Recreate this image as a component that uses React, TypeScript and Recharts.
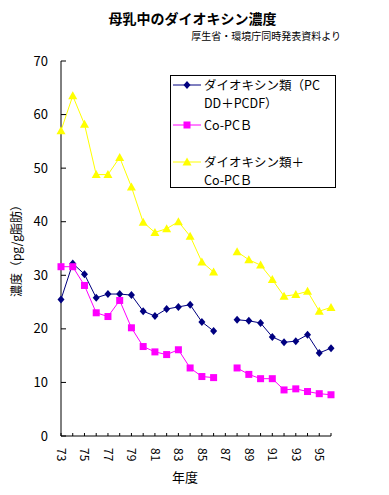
import React from "react";
import { LineChart, Line, XAxis, YAxis, Legend } from "recharts";

const years = ["73", "74", "75", "76", "77", "78", "79", "80", "81", "82", "83", "84", "85", "86", "87", "88", "89", "90", "91", "92", "93", "94", "95", "96"];
const dioxin = [25.5, 32.2, 30.2, 25.8, 26.5, 26.5, 26.3, 23.3, 22.4, 23.7, 24.1, 24.5, 21.3, 19.6, null, 21.7, 21.5, 21.1, 18.5, 17.5, 17.7, 18.9, 15.5, 16.4];
const copcb = [31.6, 31.6, 28.1, 23.0, 22.3, 25.3, 20.2, 16.7, 15.7, 15.2, 16.1, 12.7, 11.1, 10.9, null, 12.7, 11.5, 10.7, 10.7, 8.6, 8.8, 8.3, 7.9, 7.7];
const total = [57.0, 63.5, 58.2, 48.8, 48.8, 52.0, 46.5, 39.9, 38.0, 38.7, 40.0, 37.3, 32.5, 30.6, null, 34.4, 32.9, 31.9, 29.2, 26.1, 26.4, 27.0, 23.3, 24.0];
const yTicks = [0, 10, 20, 30, 40, 50, 60, 70];

const data = years.map((y, i) => ({ year: y, dioxin: dioxin[i], copcb: copcb[i], total: total[i] }));

const font = "'Noto Sans CJK JP', sans-serif";

const Diamond = (props: any) => {
    const { cx, cy, fill } = props;
    if (cx == null || cy == null || props.value == null) return null;
    return <polygon points={`${cx},${cy - 4} ${cx + 3.5},${cy} ${cx},${cy + 4} ${cx - 3.5},${cy}`} fill={fill} />;
};

const Square = (props: any) => {
    const { cx, cy, fill } = props;
    if (cx == null || cy == null || props.value == null) return null;
    return <rect x={cx - 3.5} y={cy - 3.5} width={7} height={7} fill={fill} />;
};

const Triangle = (props: any) => {
    const { cx, cy, fill } = props;
    if (cx == null || cy == null || props.value == null) return null;
    return <polygon points={`${cx},${cy - 4.5} ${cx + 4.5},${cy + 3.5} ${cx - 4.5},${cy + 3.5}`} fill={fill} />;
};

const XTick = (props: any) => {
    const { x, y, payload, index } = props;
    return (
        <g>
            <line x1={x} y1={y} x2={x} y2={y - 3} stroke="#000" />
            {index % 2 === 0 && (
                <text x={x} y={y + 12} transform={`rotate(90, ${x}, ${y + 12})`} dy="0.35em" textAnchor="start" fontSize={12} fontFamily={font} fill="#000">
                    {payload.value}
                </text>
            )}
        </g>
    );
};

const YTick = (props: any) => {
    const { x, y, payload } = props;
    return (
        <g>
            <line x1={x} y1={y} x2={x + 5} y2={y} stroke="#000" />
            <text x={x - 13} y={y} dy="0.35em" textAnchor="end" fontSize={13} fontFamily={font} fill="#000">
                {payload.value}
            </text>
        </g>
    );
};

const legendRows = [
    { lines: ["ダイオキシン類（PC", "DD＋PCDF）"], color: "#000080", shape: "diamond" },
    { lines: ["Co-PCＢ"], color: "#ff00ff", shape: "square" },
    { lines: ["ダイオキシン類＋", "Co-PCＢ"], color: "#ffff00", shape: "triangle" },
];

// legend drawn as a framed box in the upper right of the plot
const renderLegend = () => (
    <div style={{ width: 164, height: 111, border: "1px solid #000", background: "#fff", fontFamily: font, fontSize: 12.5, lineHeight: "18px", position: "relative" }}>
        {legendRows.map((r, i) => {
            const top = [0, 40, 77][i];
            return (
                <div key={i} style={{ position: "absolute", left: 0, top }}>
                    <svg width={32} height={18} style={{ position: "absolute", left: 2, top: 0 }}>
                        <line x1={0} y1={9} x2={28} y2={9} stroke={r.color} />
                        {r.shape === "diamond" && <polygon points="14,5 17.5,9 14,13 10.5,9" fill={r.color} />}
                        {r.shape === "square" && <rect x={10.5} y={5.5} width={7} height={7} fill={r.color} />}
                        {r.shape === "triangle" && <polygon points="14,4.5 18.5,12.5 9.5,12.5" fill={r.color} />}
                    </svg>
                    <div style={{ position: "absolute", left: 33, top: 0, whiteSpace: "nowrap" }}>
                        {r.lines.map((l, j) => (
                            <div key={j}>{l}</div>
                        ))}
                    </div>
                </div>
            );
        })}
    </div>
);

export default function App() {
    return (
        <div style={{ position: "absolute", left: 0, top: 0, width: 389, height: 495, background: "#fff" }}>
            <div style={{ position: "absolute", left: 0, width: 389, top: 9, textAlign: "center", fontFamily: font, fontSize: 14, fontWeight: "bold", lineHeight: "18px" }}>
                <span style={{ position: "relative", left: -2 }}>母乳中のダイオキシン濃度</span>
            </div>
            <div style={{ position: "absolute", right: 48, top: 30, fontFamily: font, fontSize: 10, lineHeight: "12px" }}>
                厚生省・環境庁同時発表資料より
            </div>
            <LineChart width={389} height={495} data={data} margin={{ top: 61, right: 58, bottom: 58, left: 60 }}>
                <XAxis
                    dataKey="year"
                    interval={0}
                    height={1}
                    tickSize={0}
                    tickMargin={0}
                    tickLine={false}
                    tick={<XTick />}
                    axisLine={{ stroke: "#000" }}
                    label={{
                        content: () => (
                            <text x={185} y={477} dy="0.35em" textAnchor="middle" fontSize={13} fontFamily={font} fill="#000">
                                年度
                            </text>
                        ),
                    }}
                />
                <YAxis
                    domain={[0, 70]}
                    ticks={yTicks}
                    width={1}
                    tickSize={0}
                    tickMargin={0}
                    tickLine={false}
                    tick={<YTick />}
                    axisLine={{ stroke: "#000" }}
                    label={{
                        content: () => (
                            <text x={17} y={248} dy="0.35em" textAnchor="middle" transform="rotate(-90, 17, 248)" fontSize={12} fontFamily={font} fill="#000">
                                濃度（pg/g脂肪）
                            </text>
                        ),
                    }}
                />
                <Legend
                    layout="horizontal"
                    verticalAlign="middle"
                    align="center"
                    content={renderLegend}
                    wrapperStyle={{ position: "absolute", left: 170, top: 75, width: 166, height: 113 }}
                />
                <Line dataKey="dioxin" name="ダイオキシン類（PCDD＋PCDF）" stroke="#000080" fill="#000080" strokeWidth={1} dot={<Diamond />} activeDot={false} isAnimationActive={false} />
                <Line dataKey="copcb" name="Co-PCＢ" stroke="#ff00ff" fill="#ff00ff" strokeWidth={1} dot={<Square />} activeDot={false} isAnimationActive={false} />
                <Line dataKey="total" name="ダイオキシン類＋Co-PCＢ" stroke="#ffff00" fill="#ffff00" strokeWidth={1} dot={<Triangle />} activeDot={false} isAnimationActive={false} />
            </LineChart>
        </div>
    );
}
